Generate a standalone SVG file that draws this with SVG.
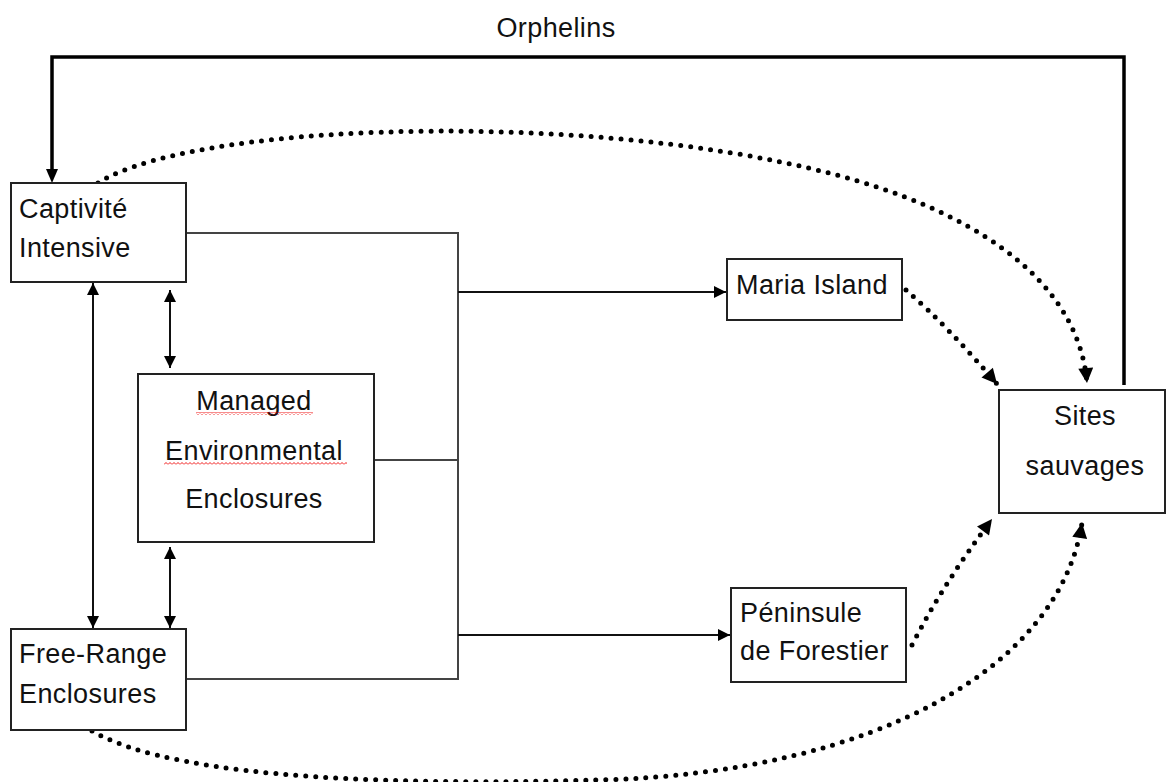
<svg xmlns="http://www.w3.org/2000/svg" width="1166" height="782" viewBox="0 0 1166 782">
<style>
.box{fill:#fff;stroke:#222;stroke-width:2}
.t{font-family:"Liberation Sans",Arial,sans-serif;font-size:27px;letter-spacing:0.4px;fill:#111}
.thin{fill:none;stroke:#444;stroke-width:2}
.thick{fill:none;stroke:#000;stroke-width:3.5}
.dot{fill:none;stroke:#000;stroke-width:5;stroke-linecap:round;stroke-dasharray:0 10}
.arr{fill:none;stroke:#111;stroke-width:2}
</style>
<defs>
<marker id="ah" viewBox="0 0 10 10" refX="10" refY="5" markerWidth="13" markerHeight="12" markerUnits="userSpaceOnUse" orient="auto-start-reverse"><path d="M0,0 L10,5 L0,10 z" fill="#000"/></marker>
<marker id="ahd" viewBox="0 0 10 10" refX="10" refY="5" markerWidth="16" markerHeight="15" markerUnits="userSpaceOnUse" orient="auto"><path d="M0,0 L10,5 L0,10 z" fill="#000"/></marker>
<pattern id="wavy" x="0" y="0" width="4" height="3" patternUnits="userSpaceOnUse"><path d="M0,2.5 L2,0.5 L4,2.5" fill="none" stroke="#e00" stroke-width="0.9"/></pattern>
</defs>
<g id="connectors">
<path class="thick" d="M1124,385 V57 H52 V170"/>
<path d="M52,183 l-6,-14 h12 z" fill="#000"/>
<path class="dot" d="M98,183 C200,118 640,108 880,188 C1010,232 1080,300 1087,383" marker-end="url(#ahd)"/>
<path class="thin" d="M186,233 H458 V679 H186"/>
<path class="thin" d="M374,460 H458"/>
<path class="arr" d="M458,292 H726" marker-end="url(#ah)"/>
<path class="arr" d="M458,635 H730" marker-end="url(#ah)"/>
<path class="dot" d="M906,290 C935,315 966,348 997,384" marker-end="url(#ahd)"/>
<path class="dot" d="M912,645 C935,600 960,562 992,519" marker-end="url(#ahd)"/>
<path class="dot" d="M92,731 C180,782 420,785 600,780 C880,772 1060,665 1082,523" marker-end="url(#ahd)"/>
<path class="arr" d="M93,283 V628" marker-start="url(#ah)" marker-end="url(#ah)"/>
<path class="arr" d="M170,290 V368" marker-start="url(#ah)" marker-end="url(#ah)"/>
<path class="arr" d="M170,547 V628" marker-start="url(#ah)" marker-end="url(#ah)"/>
</g>
<g id="orphelins-label"><text class="t" x="556" y="37" text-anchor="middle">Orphelins</text></g>
<g id="captivite">
<rect class="box" x="11" y="183" width="175" height="99"/>
<text class="t" x="19" y="218">Captivité</text>
<text class="t" x="19" y="257">Intensive</text>
</g>
<g id="managed">
<rect class="box" x="138" y="374" width="236" height="168"/>
<text class="t" x="254" y="410" text-anchor="middle">Managed</text>
<rect x="196" y="412" width="117" height="3" fill="url(#wavy)"/>
<text class="t" x="254" y="460" text-anchor="middle">Environmental</text>
<rect x="164" y="462" width="183" height="3" fill="url(#wavy)"/>
<text class="t" x="254" y="508" text-anchor="middle">Enclosures</text>
</g>
<g id="free-range">
<rect class="box" x="11" y="629" width="175" height="101"/>
<text class="t" x="19" y="663">Free-Range</text>
<text class="t" x="19" y="703">Enclosures</text>
</g>
<g id="maria">
<rect class="box" x="727" y="259" width="175" height="61"/>
<text class="t" x="736" y="294">Maria Island</text>
</g>
<g id="peninsule">
<rect class="box" x="731" y="588" width="175" height="94"/>
<text class="t" x="740" y="622">Péninsule</text>
<text class="t" x="740" y="660">de Forestier</text>
</g>
<g id="sites">
<rect class="box" x="999" y="390" width="166" height="123"/>
<text class="t" x="1085" y="425" text-anchor="middle">Sites</text>
<text class="t" x="1085" y="475" text-anchor="middle">sauvages</text>
</g>
</svg>
